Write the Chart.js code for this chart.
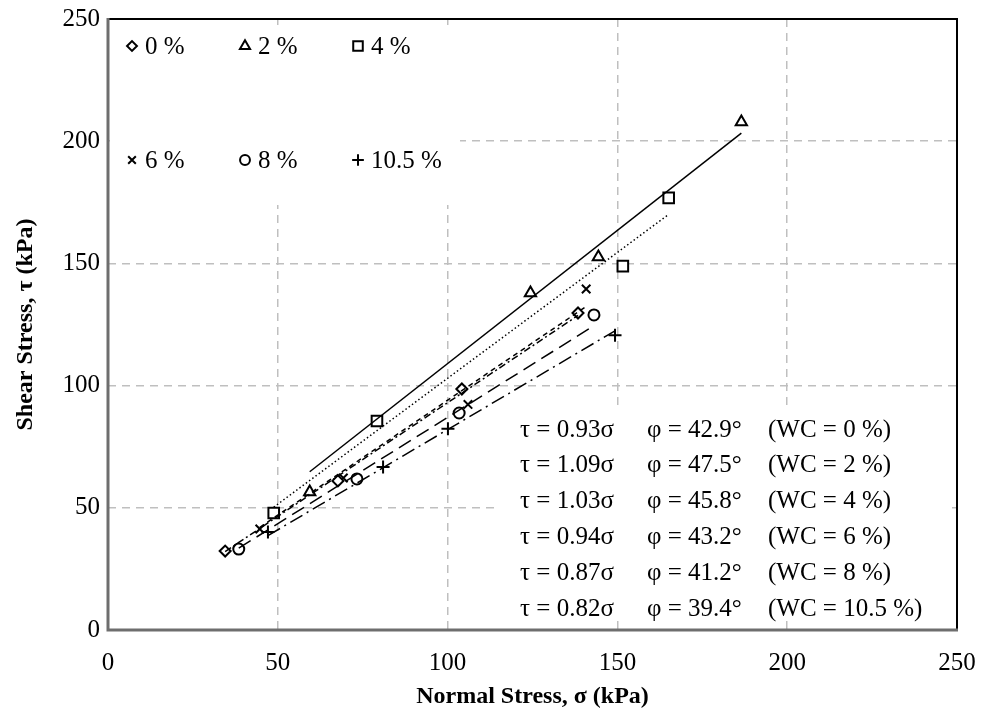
<!DOCTYPE html>
<html>
<head>
<meta charset="utf-8">
<script src="https://cdn.jsdelivr.net/npm/chart.js@4.4.1/dist/chart.umd.min.js"></script>
<style>
  html, body { margin: 0; padding: 0; background: #fff; }
  #wrap { width: 981px; height: 717px; }
</style>
</head>
<body>
<div id="wrap"><canvas id="chart" width="981" height="717"></canvas></div>
<script>
// water content labels and fitted values
const wcLabels = ['0', '2', '4', '6', '8', '10.5'];
const slopes = [0.93, 1.09, 1.03, 0.94, 0.87, 0.82];
const phiDeg = [42.9, 47.5, 45.8, 43.2, 41.2, 39.4];

// normal stress (kPa) / shear stress (kPa) per series
const sigma0 = [34.5, 67.7, 104.2, 138.4];
const tau0   = [32.3, 61.0, 98.6, 129.7];
const sigma2 = [59.4, 124.4, 144.4, 186.5];
const tau2   = [56.5, 137.9, 152.6, 207.9];
const sigma4 = [48.8, 79.2, 151.6, 165.1];
const tau4   = [47.9, 85.5, 148.9, 176.8];
const sigma6 = [44.7, 69.3, 106.0, 140.8];
const tau6   = [41.3, 62.2, 92.3, 139.5];
const sigma8 = [38.5, 73.3, 103.4, 143.1];
const tau8   = [33.1, 61.8, 88.8, 128.9];
const sigma10 = [47.1, 81.0, 100.1, 149.3];
const tau10   = [40.1, 66.7, 82.3, 120.6];

const axisTicks = [0, 50, 100, 150, 200, 250];

const sigmas = [sigma0, sigma2, sigma4, sigma6, sigma8, sigma10];
const taus = [tau0, tau2, tau4, tau6, tau8, tau10];

const markers = ['rectRot', 'triangle', 'rect', 'crossRot', 'circle', 'cross'];
const markerSize = [5.5, 6.5, 7.5, 6, 5.5, 6.5];
const lineDash = [[7, 3, 2, 3], [], [1.5, 2.5], [5, 4], [14, 7], [14, 5, 2, 5]];

const serif = '"Liberation Serif", "Times New Roman", serif';

const datasets = [];
sigmas.forEach((xs, i) => {
  // trendline through origin over the data range
  const lo = Math.min(...xs), hi = Math.max(...xs);
  datasets.push({
    type: 'line',
    data: [{ x: lo, y: slopes[i] * lo }, { x: hi, y: slopes[i] * hi }],
    borderColor: '#000',
    borderWidth: 1.5,
    borderDash: lineDash[i],
    pointRadius: 0,
    fill: false
  });
});
sigmas.forEach((xs, i) => {
  datasets.push({
    type: 'scatter',
    label: wcLabels[i] + ' %',
    data: xs.map((x, j) => ({ x: x, y: taus[i][j] })),
    pointStyle: markers[i],
    pointRadius: markerSize[i],
    pointBorderColor: '#000',
    pointBackgroundColor: '#fff',
    pointBorderWidth: 2
  });
});

// white boxes for legend and equation text (cover grid lines)
const boxes = {
  id: 'boxes',
  beforeDatasetsDraw(chart) {
    const ctx = chart.ctx;
    ctx.save();
    ctx.fillStyle = '#fff';
    ctx.fillRect(110, 25, 350, 180);
    ctx.fillRect(497, 405, 455, 215);
    ctx.restore();
  }
};

const overlay = {
  id: 'overlay',
  afterDatasetsDraw(chart) {
    const ctx = chart.ctx;
    const a = chart.chartArea;
    ctx.save();
    // frame
    ctx.lineWidth = 2;
    ctx.strokeStyle = '#000';
    ctx.beginPath();
    ctx.moveTo(a.left, a.top); ctx.lineTo(a.right, a.top); ctx.lineTo(a.right, a.bottom);
    ctx.stroke();
    ctx.lineWidth = 3;
    ctx.strokeStyle = '#6e6e6e';
    ctx.beginPath();
    ctx.moveTo(a.left, a.top - 1); ctx.lineTo(a.left, a.bottom); ctx.lineTo(a.right + 1, a.bottom);
    ctx.stroke();

    // legend
    const colX = [132, 245, 358];
    const rowY = [46, 160];
    ctx.font = '25px ' + serif;
    ctx.textBaseline = 'middle';
    ctx.textAlign = 'left';
    wcLabels.forEach((lab, i) => {
      const x = colX[i % 3], y = rowY[Math.floor(i / 3)];
      ctx.fillStyle = '#fff';
      ctx.strokeStyle = '#000';
      ctx.lineWidth = 2;
      Chart.helpers.drawPoint(ctx, {
        pointStyle: markers[i], radius: markerSize[i] * 0.9, borderWidth: 2, rotation: 0
      }, x, y);
      ctx.fillStyle = '#000';
      ctx.fillText(lab + ' %', x + 13, y + 1);
    });

    // equations
    const eqX = [520, 647, 768];
    ctx.fillStyle = '#000';
    slopes.forEach((s, i) => {
      const y = 430 + i * 35.8;
      ctx.fillText('\u03c4 = ' + s.toFixed(2) + '\u03c3', eqX[0], y);
      ctx.fillText('\u03c6 = ' + phiDeg[i].toFixed(1) + '\u00b0', eqX[1], y);
      ctx.fillText('(WC = ' + wcLabels[i] + ' %)', eqX[2], y);
    });
    ctx.restore();
  }
};

const whiteBg = {
  id: 'whiteBg',
  beforeDraw(chart) {
    const ctx = chart.ctx;
    ctx.save();
    ctx.fillStyle = '#fff';
    ctx.fillRect(0, 0, chart.width, chart.height);
    ctx.restore();
  }
};

function gridColor(c) {
  return (c.tick && (c.tick.value === 0 || c.tick.value === 250)) ? 'rgba(0,0,0,0)' : '#bfbfbf';
}

new Chart(document.getElementById('chart'), {
  data: { datasets: datasets },
  options: {
    responsive: false,
    animation: false,
    layout: { padding: { top: 19, right: 24, left: 0, bottom: 0 } },
    plugins: { legend: { display: false }, tooltip: { enabled: false } },
    scales: {
      x: {
        type: 'linear',
        min: 0, max: 250,
        afterBuildTicks(scale) { scale.ticks = axisTicks.map(v => ({ value: v })); },
        afterFit(scale) {
          scale.height = 87;
          scale.paddingLeft = 0;
          scale.paddingRight = 0;
        },
        ticks: { color: '#000', font: { family: serif, size: 25 }, padding: 18 },
        grid: { color: gridColor, lineWidth: 1.5, drawTicks: false },
        border: { display: false, dash: [8, 6] },
        title: {
          display: true,
          text: 'Normal Stress, \u03c3 (kPa)',
          color: '#000',
          font: { family: serif, size: 24, weight: 'bold' },
          padding: 6
        }
      },
      y: {
        type: 'linear',
        min: 0, max: 250,
        afterBuildTicks(scale) { scale.ticks = axisTicks.map(v => ({ value: v })); },
        afterFit(scale) {
          scale.width = 108;
          scale.paddingTop = 0;
          scale.paddingBottom = 0;
        },
        ticks: { color: '#000', font: { family: serif, size: 25 }, padding: 8 },
        grid: { color: gridColor, lineWidth: 1.5, drawTicks: false },
        border: { display: false, dash: [8, 6] },
        title: {
          display: true,
          text: 'Shear Stress, \u03c4 (kPa)',
          color: '#000',
          font: { family: serif, size: 24, weight: 'bold' },
          padding: 11
        }
      }
    }
  },
  plugins: [whiteBg, boxes, overlay]
});
</script>
</body>
</html>
